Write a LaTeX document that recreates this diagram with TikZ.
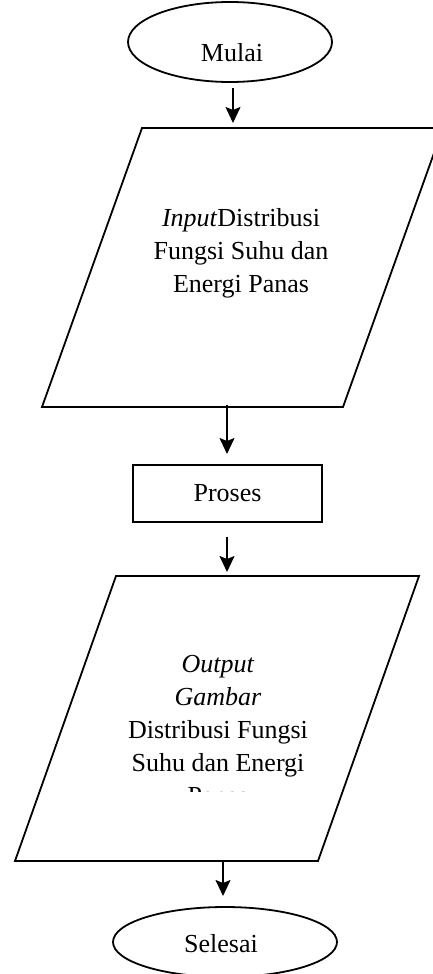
\documentclass[tikz,border=0pt]{standalone}
\usepackage{fontspec}
\setmainfont{Liberation Serif}
\usetikzlibrary{arrows.meta,shapes.geometric}
\begin{document}
\begin{tikzpicture}[x=1pt,y=-1pt,
  outl/.style={draw=black,line width=1.8pt},
  txt/.style={font=\fontsize{26}{33}\selectfont,inner sep=0pt,align=center,anchor=base},
  arr/.style={line width=1.8pt,-{Stealth[length=16pt,width=15pt,inset=3pt]}},
  term/.style={ellipse,outl,inner sep=0pt}]
\useasboundingbox (0,0) rectangle (433,974);
% start terminal
\node[term,minimum width=204pt,minimum height=80pt] (mulai) at (230,42) {};
\node[txt] (mulaitxt) at (232,62) {Mulai};
% input parallelogram
\coordinate (p1bl) at (42,407);
\coordinate (p1br) at (343,407);
\coordinate (p1tr) at (443,128);
\coordinate (p1tl) at (142,128);
\draw[outl,line join=miter] (p1bl) -- (p1br) -- (p1tr) -- (p1tl) -- cycle;
\node[txt] (intxt) at (241,292) {\textit{Input}Distribusi\\Fungsi Suhu dan\\Energi Panas};
% process
\node[outl,rectangle,minimum width=189pt,minimum height=57pt,inner sep=0pt,
  font=\fontsize{26}{33}\selectfont] (proses) at (227.5,493.5) {Proses};
% output parallelogram
\coordinate (p2bl) at (15,861);
\coordinate (p2br) at (318,861);
\coordinate (p2tr) at (419,576);
\coordinate (p2tl) at (116,576);
\draw[outl,line join=miter] (p2bl) -- (p2br) -- (p2tr) -- (p2tl) -- cycle;
\begin{scope}
  \clip (0,600) rectangle (433,791);
  \node[txt] (outtxt) at (218,804) {\textit{Output}\\\textit{Gambar}\\Distribusi Fungsi\\Suhu dan Energi\\Panas};
\end{scope}
% end terminal
\node[term,minimum width=224pt,minimum height=70pt] (selesai) at (225,942) {};
\node[txt] (selesaitxt) at (221,952) {Selesai};
% arrows
\coordinate (a1s) at (233,88);  \coordinate (a1e) at (233,123);
\coordinate (a2s) at (227,405); \coordinate (a2e) at (227,454);
\coordinate (a3s) at (227,537); \coordinate (a3e) at (227,572);
\coordinate (a4s) at (223,861); \coordinate (a4e) at (223,896);
\draw[arr] (a1s) -- (a1e);
\draw[arr] (a2s) -- (a2e);
\draw[arr] (a3s) -- (a3e);
\draw[arr] (a4s) -- (a4e);
\end{tikzpicture}
\end{document}
